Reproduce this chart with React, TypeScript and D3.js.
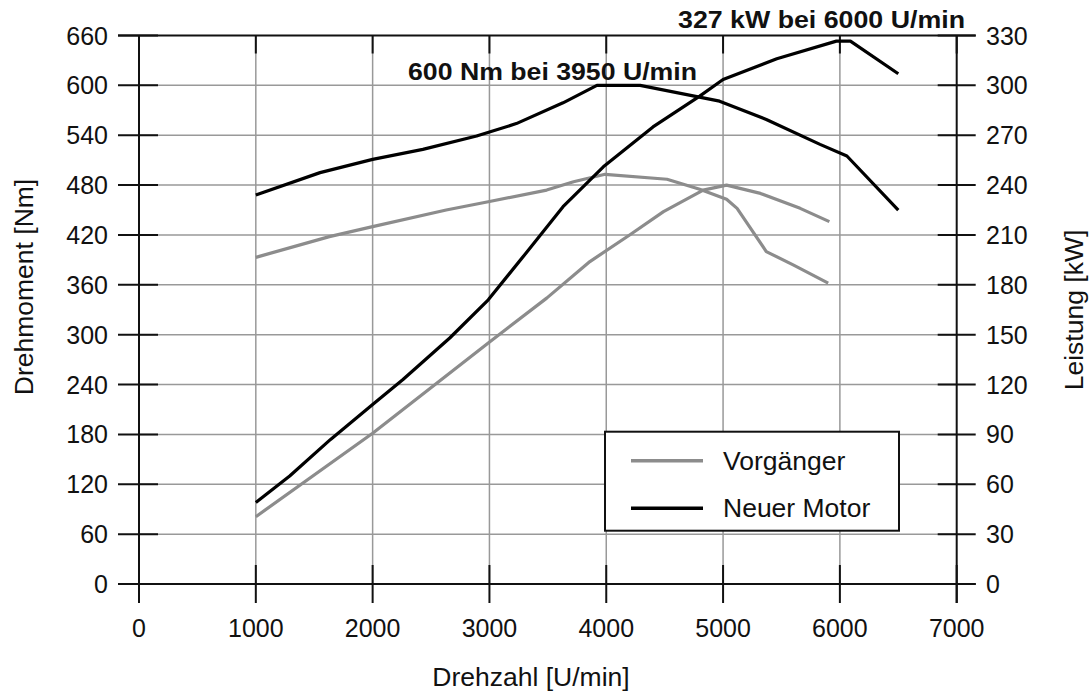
import { useEffect, useRef } from "react"
import * as d3 from "d3"

// rpm ticks and axis ticks
const rpmTicks = [0, 1000, 2000, 3000, 4000, 5000, 6000, 7000]
const torqueTicks = [0, 60, 120, 180, 240, 300, 360, 420, 480, 540, 600, 660]
const powerTicks = [0, 30, 60, 90, 120, 150, 180, 210, 240, 270, 300, 330]

// [rpm, value] pairs
const newTorque: [number, number][] = [
  [1000, 468], [1550, 495], [2000, 511], [2430, 523], [2890, 539], [3230, 554],
  [3630, 579], [3920, 600], [4290, 600], [4970, 581], [5370, 559], [5830, 529],
  [6060, 515], [6500, 450],
]
const newPower: [number, number][] = [
  [1000, 49], [1290, 65], [1640, 87], [2000, 108], [2260, 123], [2660, 148],
  [2990, 171], [3300, 198], [3630, 227], [3975, 251], [4400, 275], [4800, 293.5],
  [5000, 303.5], [5460, 316], [5970, 326.6], [6090, 326.6], [6500, 307],
]
const oldTorque: [number, number][] = [
  [1000, 393], [1630, 418], [2000, 430], [2630, 450], [2990, 460], [3490, 474],
  [3720, 484], [3990, 493], [4520, 487], [4800, 475], [5030, 463], [5120, 452],
  [5370, 400], [5600, 384], [5900, 362],
]
const oldPower: [number, number][] = [
  [1000, 40.5], [2000, 90.7], [2990, 145], [3490, 172], [3860, 194], [4200, 210],
  [4490, 224], [4830, 237], [5030, 240], [5320, 235], [5660, 226], [5910, 218],
]

const legendItems = [
  { label: "Vorgänger", color: "#8c8c8c" },
  { label: "Neuer Motor", color: "#000" },
]

const FONT = "'Liberation Sans', Arial, sans-serif"

export default function App() {
  const svgRef = useRef<SVGSVGElement>(null)

  useEffect(() => {
    if (!svgRef.current) return
    const svg = d3.select(svgRef.current)
    svg.selectAll("*").remove()

    const left = 139
    const right = 956.7
    const top = 35.5
    const bottom = 584

    const x = d3.scaleLinear().domain([0, 7000]).range([left, right])
    const yT = d3.scaleLinear().domain([0, 660]).range([bottom, top])
    const yP = d3.scaleLinear().domain([0, 330]).range([bottom, top])

    // grid
    const grid = svg.append("g").attr("stroke", "#999").attr("stroke-width", 1.5)
    rpmTicks.slice(1, -1).forEach(t => {
      grid.append("line").attr("x1", x(t)).attr("x2", x(t)).attr("y1", top).attr("y2", bottom)
    })
    torqueTicks.slice(1, -1).forEach(t => {
      grid.append("line").attr("x1", left).attr("x2", right).attr("y1", yT(t)).attr("y2", yT(t))
    })

    // frame and ticks
    const ax = svg.append("g").attr("stroke", "#111").attr("stroke-width", 2)
    ax.append("line").attr("x1", left - 21).attr("x2", right + 19).attr("y1", top).attr("y2", top)
    ax.append("line").attr("x1", left - 21).attr("x2", right + 19).attr("y1", bottom).attr("y2", bottom)
    ax.append("line").attr("x1", left).attr("x2", left).attr("y1", top).attr("y2", bottom + 19)
    ax.append("line").attr("x1", right).attr("x2", right).attr("y1", top).attr("y2", bottom + 19)

    torqueTicks.forEach(t => {
      ax.append("line").attr("x1", left - 21).attr("x2", left + 19).attr("y1", yT(t)).attr("y2", yT(t))
    })
    powerTicks.forEach(t => {
      ax.append("line").attr("x1", right - 19).attr("x2", right + 19).attr("y1", yP(t)).attr("y2", yP(t))
    })
    rpmTicks.forEach(t => {
      ax.append("line").attr("x1", x(t)).attr("x2", x(t)).attr("y1", bottom - 19).attr("y2", bottom + 19)
      ax.append("line").attr("x1", x(t)).attr("x2", x(t)).attr("y1", top).attr("y2", top + 18)
    })

    // tick labels
    const labels = svg.append("g").attr("font-family", FONT).attr("font-size", 25).attr("fill", "#111")
    torqueTicks.forEach(t => {
      labels.append("text").attr("x", 108).attr("y", yT(t) + 9).attr("text-anchor", "end").text(t)
    })
    powerTicks.forEach(t => {
      labels.append("text").attr("x", 986).attr("y", yP(t) + 9).attr("text-anchor", "start").text(t)
    })
    rpmTicks.forEach(t => {
      labels.append("text").attr("x", x(t)).attr("y", 637).attr("text-anchor", "middle").text(t)
    })

    // axis titles
    const titles = svg.append("g").attr("font-family", FONT).attr("font-size", 26.5).attr("fill", "#111")
    titles.append("text").attr("x", 531).attr("y", 686).attr("text-anchor", "middle").text("Drehzahl [U/min]")
    titles.append("text")
      .attr("transform", "translate(33,287) rotate(-90)")
      .attr("text-anchor", "middle")
      .text("Drehmoment [Nm]")
    titles.append("text")
      .attr("transform", "translate(1083,310) rotate(-90)")
      .attr("text-anchor", "middle")
      .text("Leistung [kW]")

    // curves
    const lineT = d3.line<[number, number]>().x(d => x(d[0])).y(d => yT(d[1]))
    const lineP = d3.line<[number, number]>().x(d => x(d[0])).y(d => yP(d[1]))
    const curves = svg.append("g").attr("fill", "none").attr("stroke-width", 3.2).attr("stroke-linejoin", "round")
    curves.append("path").datum(oldTorque).attr("stroke", legendItems[0].color).attr("d", lineT)
    curves.append("path").datum(oldPower).attr("stroke", legendItems[0].color).attr("d", lineP)
    curves.append("path").datum(newTorque).attr("stroke", legendItems[1].color).attr("d", lineT)
    curves.append("path").datum(newPower).attr("stroke", legendItems[1].color).attr("d", lineP)

    // annotations
    const ann = svg.append("g").attr("font-family", FONT).attr("font-size", 24).attr("font-weight", "bold").attr("fill", "#111")
    ann.append("text").attr("x", 678).attr("y", 28)
      .attr("textLength", 287).attr("lengthAdjust", "spacingAndGlyphs")
      .text("327 kW bei 6000 U/min")
    ann.append("text").attr("x", 408).attr("y", 80)
      .attr("textLength", 289).attr("lengthAdjust", "spacingAndGlyphs")
      .text("600 Nm bei 3950 U/min")

    // legend
    const lg = svg.append("g")
    lg.append("rect").attr("x", 605).attr("y", 431.7).attr("width", 294).attr("height", 99)
      .attr("fill", "#fff").attr("stroke", "#111").attr("stroke-width", 2)
    legendItems.forEach((d, i) => {
      const yy = 460.7 + i * 47.6
      lg.append("line").attr("x1", 631).attr("x2", 703).attr("y1", yy).attr("y2", yy)
        .attr("stroke", d.color).attr("stroke-width", 3.5)
      lg.append("text").attr("x", 723).attr("y", yy + 9)
        .attr("font-family", FONT).attr("font-size", 26.5).attr("fill", "#111").text(d.label)
    })
  }, [])

  return (
    <div style={{ position: "absolute", left: 0, top: 0 }}>
      <svg ref={svgRef} width={1091} height={695} style={{ display: "block", background: "#fff" }} />
    </div>
  )
}
